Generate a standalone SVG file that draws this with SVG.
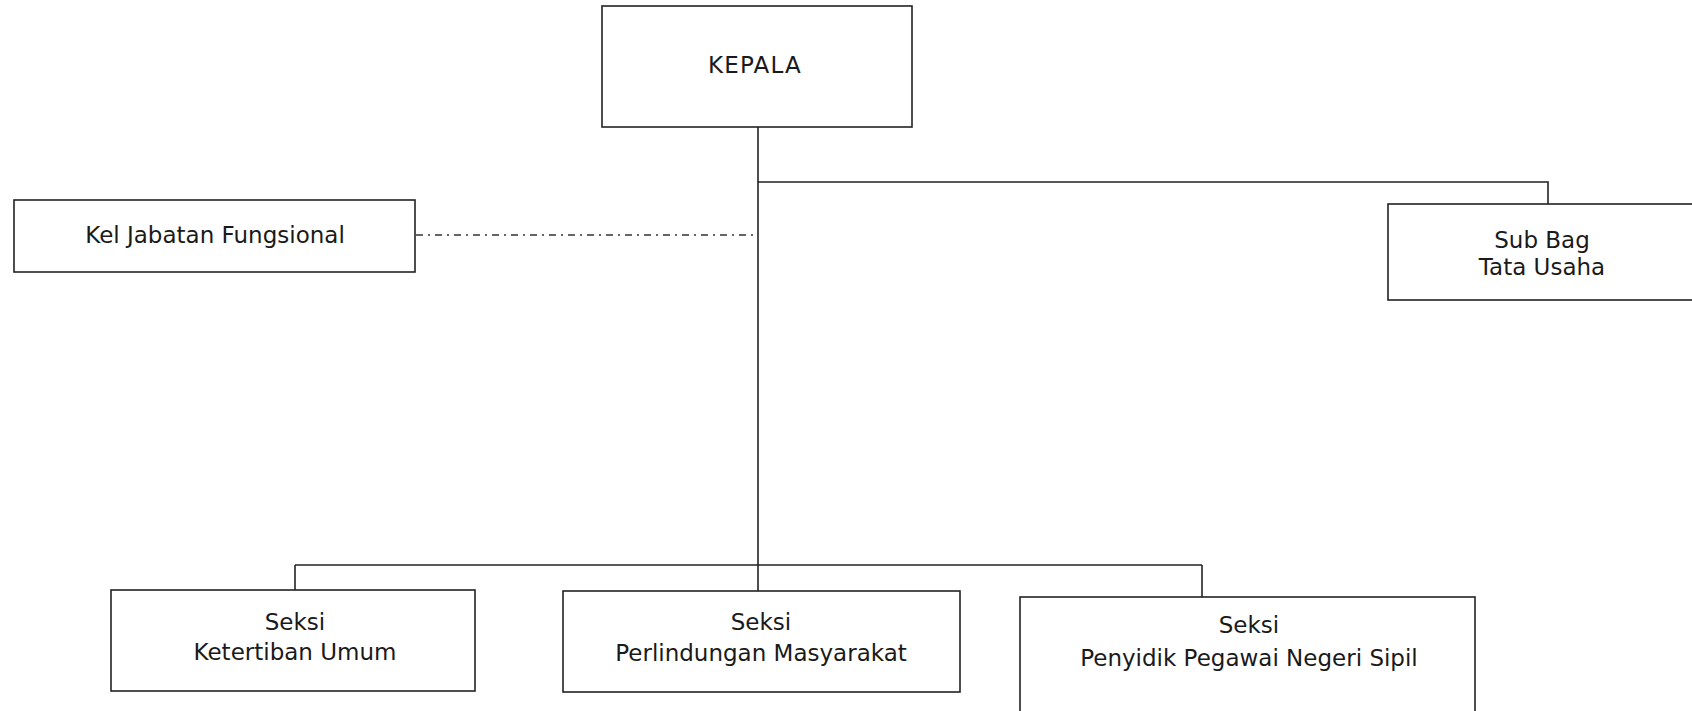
<svg xmlns="http://www.w3.org/2000/svg" width="1692" height="711" viewBox="0 0 1692 711">
<style>
.box{fill:#fff;stroke:#222;stroke-width:1.6}
.lbl{font-family:"DejaVu Sans",Verdana,sans-serif;font-size:23px;fill:#1a1a1a;text-anchor:middle}
.ln{fill:none;stroke:#222;stroke-width:1.6}
.dd{fill:none;stroke:#333;stroke-width:1.4;stroke-dasharray:7 5 2 5}
</style>
<rect width="1692" height="711" fill="#fff"/>
<g id="connectors">
<path class="ln" d="M758,127 V591"/>
<path class="ln" d="M758,182 H1548 V204"/>
<path class="dd" d="M416,235 H758"/>
<path class="ln" d="M295,565 H1202"/>
<path class="ln" d="M295,565 V590"/>
<path class="ln" d="M1202,565 V597"/>
</g>
<g id="kepala">
<rect class="box" x="602" y="6" width="310" height="121"/>
<text class="lbl" x="755" y="73" font-size="24" letter-spacing="1.2">KEPALA</text>
</g>
<g id="kel-jabatan">
<rect class="box" x="14" y="200" width="401" height="72"/>
<text class="lbl" x="215" y="243">Kel Jabatan Fungsional</text>
</g>
<g id="sub-bag">
<rect class="box" x="1388" y="204" width="330" height="96"/>
<text class="lbl" x="1542" y="248">Sub Bag</text>
<text class="lbl" x="1542" y="275">Tata Usaha</text>
</g>
<g id="seksi-ketertiban">
<rect class="box" x="111" y="590" width="364" height="101"/>
<text class="lbl" x="295" y="630">Seksi</text>
<text class="lbl" x="295" y="660">Ketertiban Umum</text>
</g>
<g id="seksi-perlindungan">
<rect class="box" x="563" y="591" width="397" height="101"/>
<text class="lbl" x="761" y="630">Seksi</text>
<text class="lbl" x="761" y="661">Perlindungan Masyarakat</text>
</g>
<g id="seksi-ppns">
<rect class="box" x="1020" y="597" width="455" height="130"/>
<text class="lbl" x="1249" y="633">Seksi</text>
<text class="lbl" x="1249" y="666">Penyidik Pegawai Negeri Sipil</text>
</g>
</svg>
